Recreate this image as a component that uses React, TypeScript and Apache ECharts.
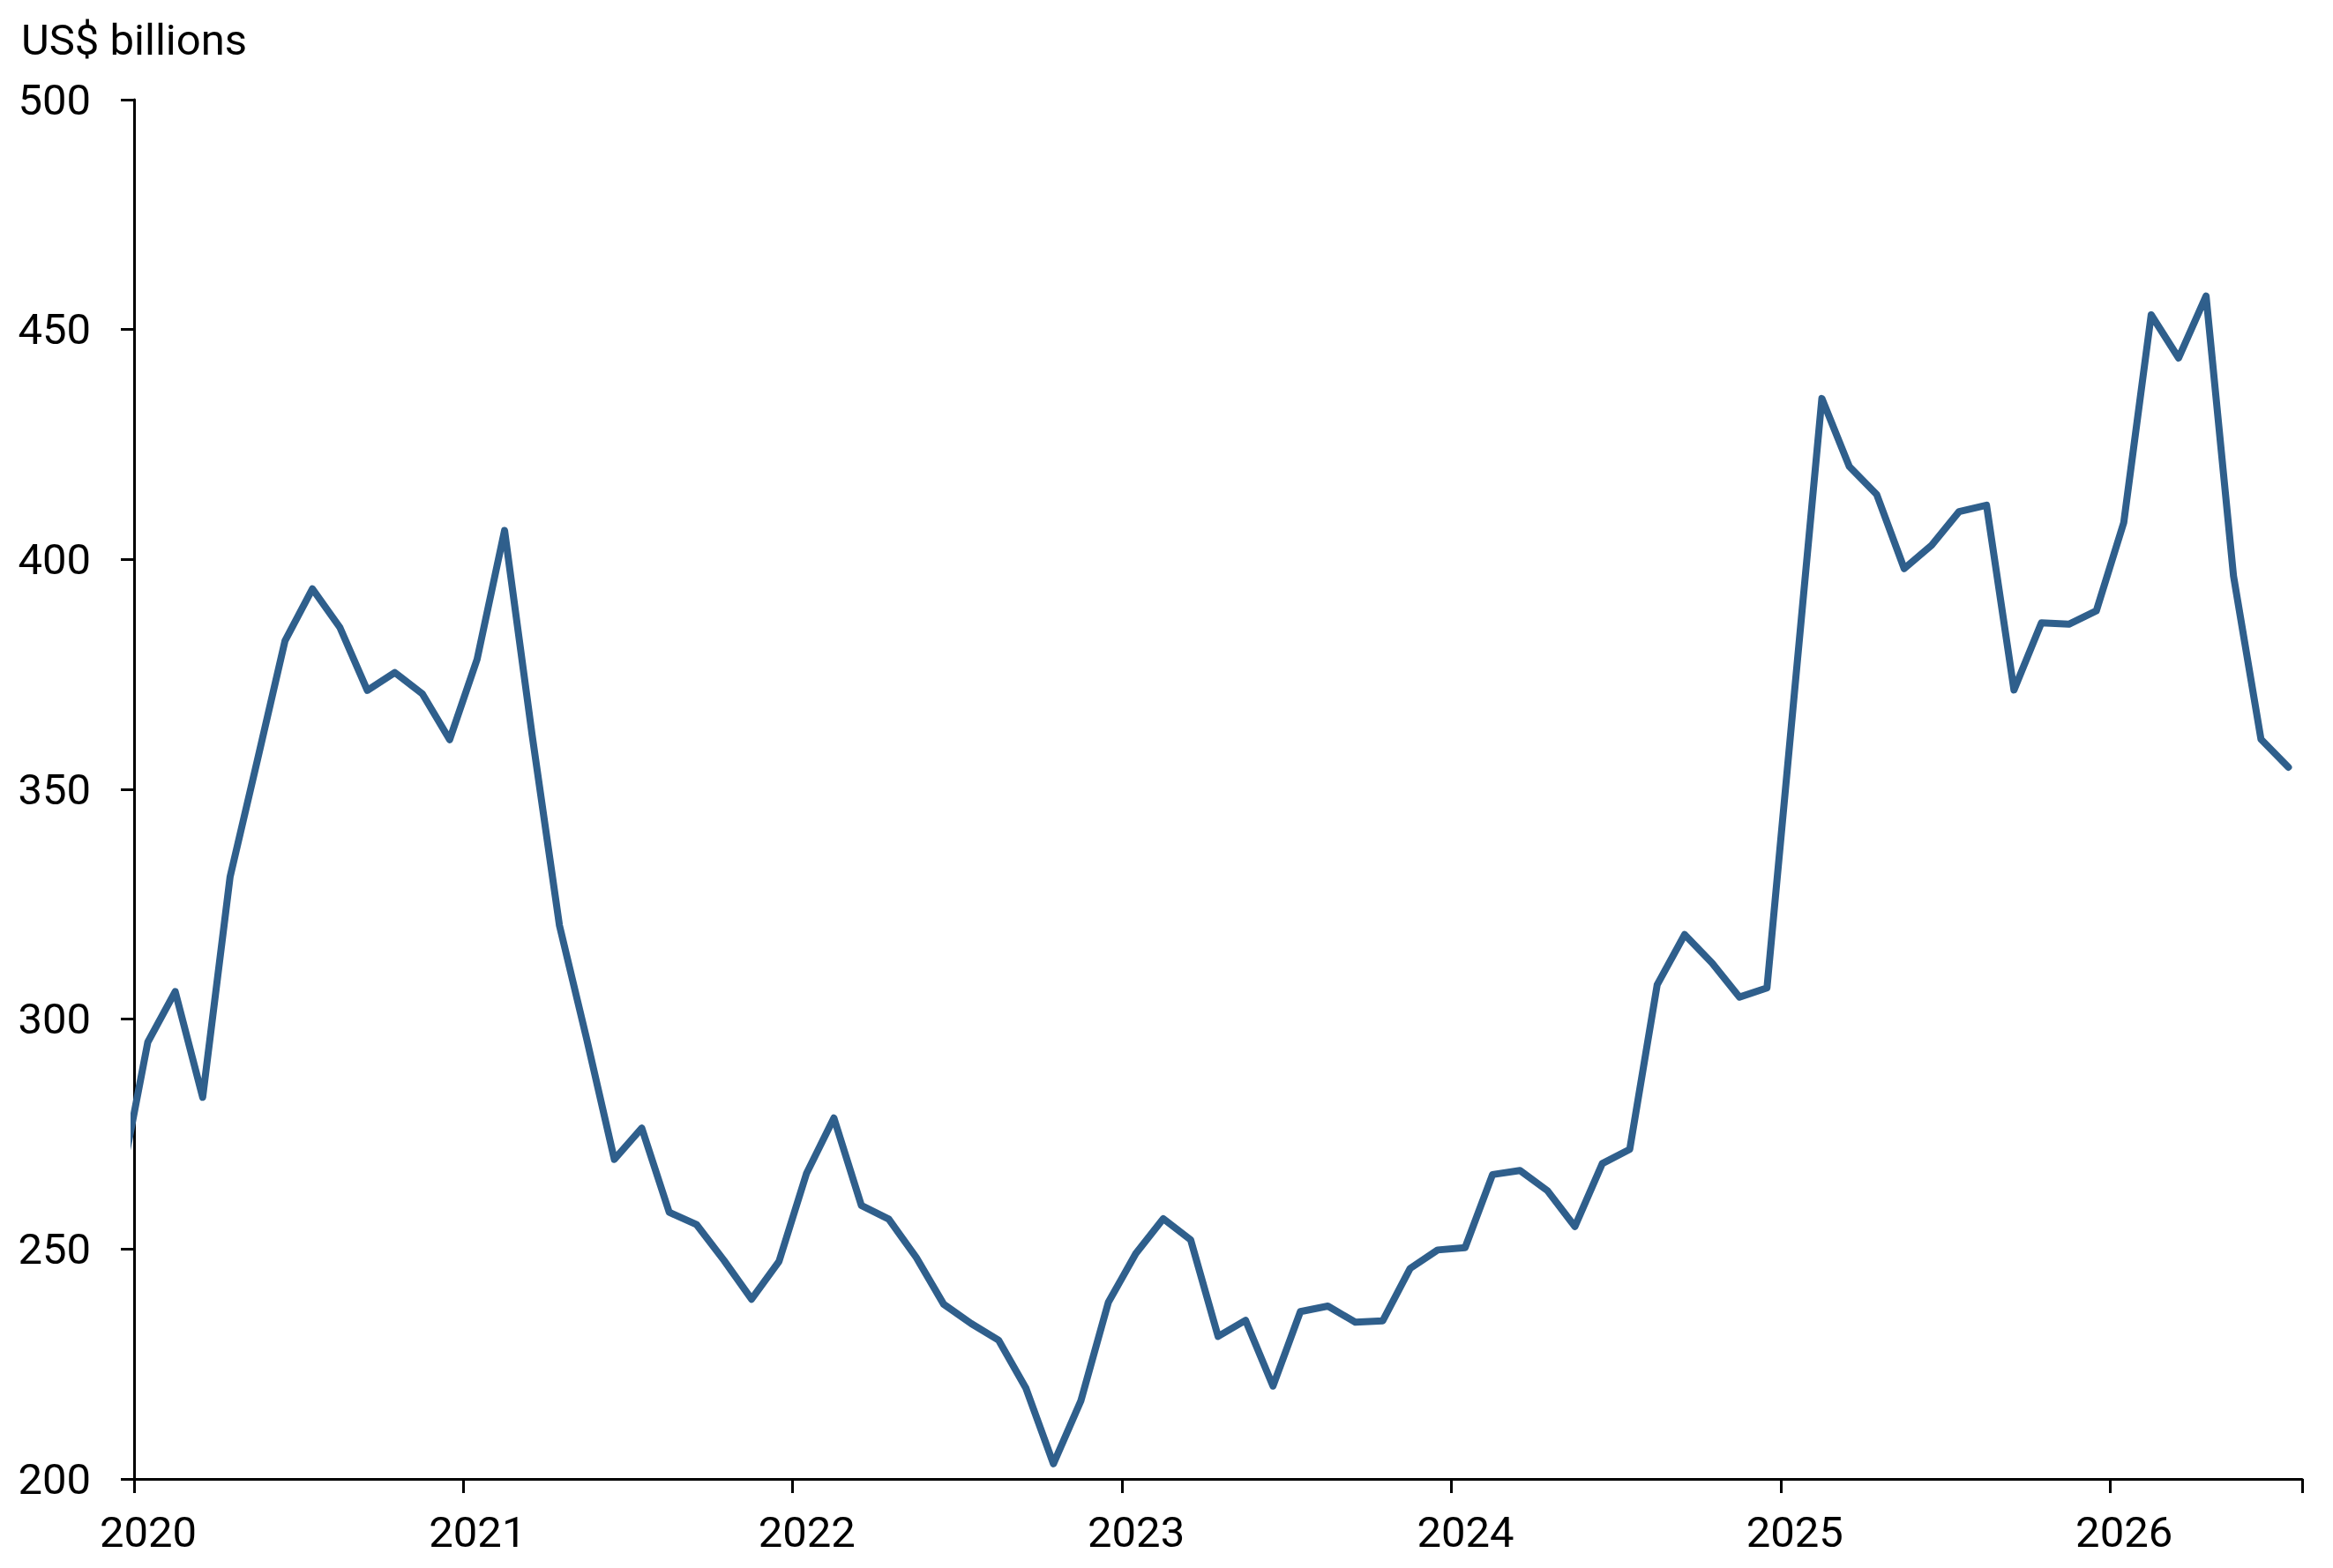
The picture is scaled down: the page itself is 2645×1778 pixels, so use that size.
import React, { useEffect, useRef } from 'react';
import * as echarts from 'echarts';

// monthly observations, plotted at mid-month; Dec 2019 is clipped by the axis
const months: string[] = [
  '2019-12',
  '2020-01', '2020-02', '2020-03', '2020-04', '2020-05', '2020-06',
  '2020-07', '2020-08', '2020-09', '2020-10', '2020-11', '2020-12',
  '2021-01', '2021-02', '2021-03', '2021-04', '2021-05', '2021-06',
  '2021-07', '2021-08', '2021-09', '2021-10', '2021-11', '2021-12',
  '2022-01', '2022-02', '2022-03', '2022-04', '2022-05', '2022-06',
  '2022-07', '2022-08', '2022-09', '2022-10', '2022-11', '2022-12',
  '2023-01', '2023-02', '2023-03', '2023-04', '2023-05', '2023-06',
  '2023-07', '2023-08', '2023-09', '2023-10', '2023-11', '2023-12',
  '2024-01', '2024-02', '2024-03', '2024-04', '2024-05', '2024-06',
  '2024-07', '2024-08', '2024-09', '2024-10', '2024-11', '2024-12',
  '2025-01', '2025-02', '2025-03', '2025-04', '2025-05', '2025-06',
  '2025-07', '2025-08', '2025-09', '2025-10', '2025-11', '2025-12',
  '2026-01', '2026-02', '2026-03', '2026-04', '2026-05', '2026-06',
  '2026-07',
];

const values: number[] = [
  264,
  295, 306, 283, 331, 356.5, 382.3, 393.6, 385.2, 371.5, 375.4, 370.8, 360.8,
  378.3, 406.3, 362, 320.4, 295.5, 269.5, 276.3, 258, 255.3, 247.5, 239.1, 247.3,
  266.4, 278.5, 259.5, 256.5, 248.2, 238, 233.8, 230.2, 219.7, 203.3, 217, 238.4,
  249, 256.6, 252, 231, 234.5, 220.2, 236.4, 237.6, 234.1, 234.4, 245.8, 249.8,
  250.3, 266.2, 267.1, 262.7, 254.9, 268.6, 271.7, 307.5, 318.4, 312.2, 304.8, 306.8,
  371, 435, 420.2, 414.1, 398, 403.1, 410.4, 411.8, 371.6, 386.2, 385.9, 388.8,
  408, 453.2, 443.8, 457.3, 396.4, 360.9, 354.8,
];

const yearLabels: string[] = ['2020', '2021', '2022', '2023', '2024', '2025', '2026'];

const BASE_YEAR = 2020;
const FONT = 'Roboto';

// months since Jan 2020, mid-month
const toX = (m: string) => {
  const [y, mo] = m.split('-').map(Number);
  return (y - BASE_YEAR) * 12 + (mo - 1) + 0.5;
};

const App: React.FC = () => {
  const chartRef = useRef<HTMLDivElement>(null);

  useEffect(() => {
    document.body.style.margin = '0';
    if (!chartRef.current) return;
    const chart = echarts.init(chartRef.current, undefined, { renderer: 'svg' });

    const seriesData = months.map((m, i) => [toX(m), values[i]]);

    chart.setOption({
      animation: false,
      backgroundColor: '#ffffff',
      grid: { left: 152, top: 113, right: 35, bottom: 101, containLabel: false },
      graphic: [
        {
          type: 'text',
          left: 24,
          top: 21,
          style: { text: 'US$ billions', font: `49px ${FONT}`, fill: '#000000' },
        },
      ],
      xAxis: {
        type: 'value',
        min: 0,
        max: 79,
        interval: 12,
        axisLine: { show: true, lineStyle: { color: '#000000', width: 3 } },
        axisTick: { show: true, length: 16, lineStyle: { color: '#000000', width: 3 } },
        splitLine: { show: false },
        axisLabel: {
          margin: 36,
          padding: [0, 0, 0, 32],
          fontFamily: FONT,
          fontSize: 49,
          color: '#000000',
          formatter: (v: number) => yearLabels[Math.round(v / 12)] ?? '',
        },
      },
      yAxis: {
        type: 'value',
        min: 200,
        max: 500,
        interval: 50,
        axisLine: { show: true, lineStyle: { color: '#000000', width: 3 } },
        axisTick: { show: true, length: 15, lineStyle: { color: '#000000', width: 3 } },
        splitLine: { show: false },
        axisLabel: {
          margin: 49,
          fontFamily: FONT,
          fontSize: 49,
          color: '#000000',
        },
      },
      series: [
        {
          type: 'line',
          data: seriesData,
          clip: true,
          showSymbol: false,
          lineStyle: { color: '#2F5F8C', width: 8, join: 'round', cap: 'round' },
        },
      ],
    });

    return () => {
      chart.dispose();
    };
  }, []);

  return <div ref={chartRef} style={{ width: 2645, height: 1778 }} />;
};

export default App;
